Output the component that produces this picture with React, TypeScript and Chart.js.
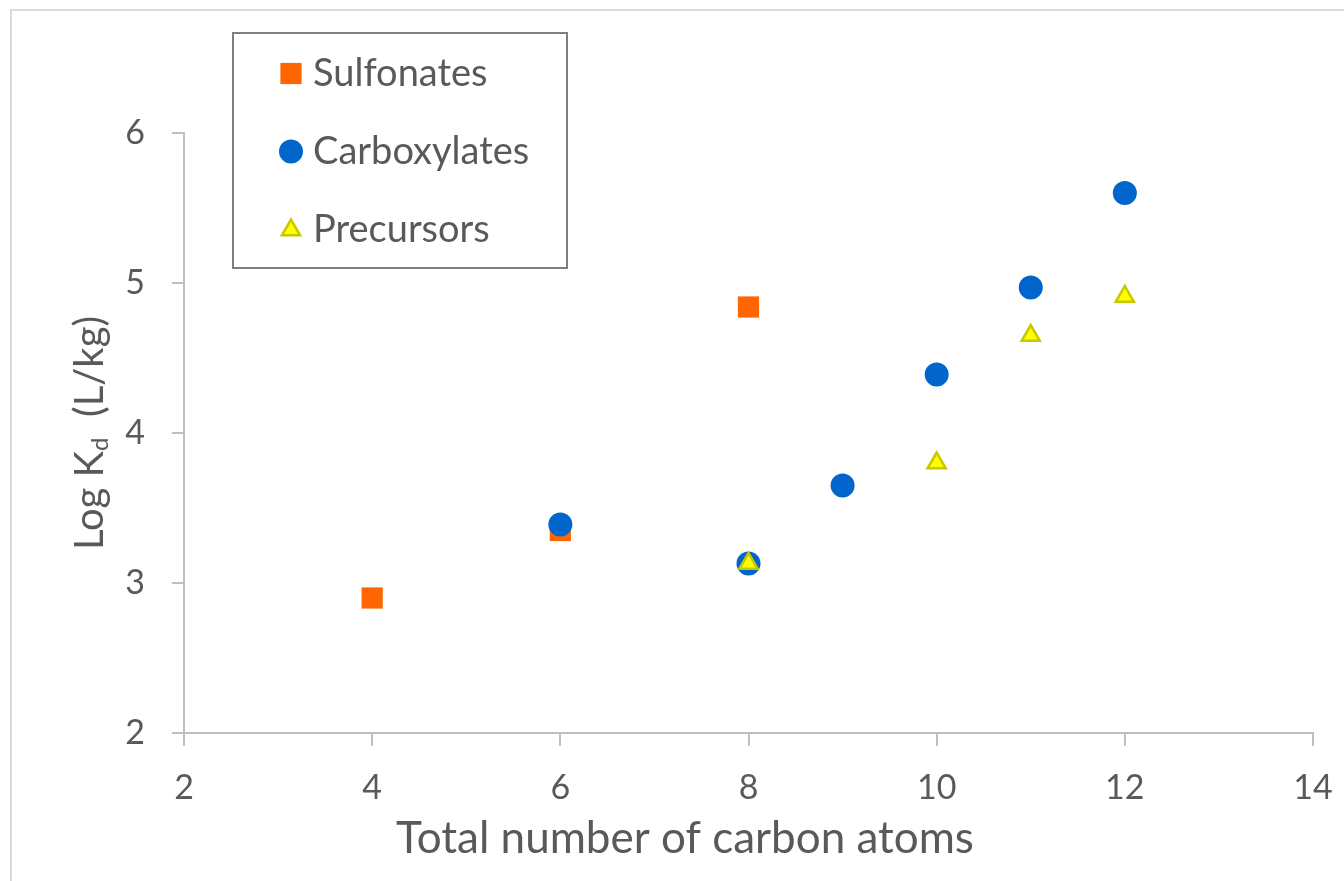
import React, { useEffect, useRef } from "react";
import { Chart, registerables } from "chart.js";
import { drawPoint } from "chart.js/helpers";

Chart.register(...registerables);

// ---- data ----
const seriesNames = ["Sulfonates", "Carboxylates", "Precursors"];
const sulfonateCarbons = [4, 6, 8];
const sulfonateLogKd = [2.9, 3.35, 4.84];
const carboxylateCarbons = [6, 8, 9, 10, 11, 12];
const carboxylateLogKd = [3.39, 3.13, 3.65, 4.39, 4.97, 5.6];
const precursorCarbons = [8, 10, 11, 12];
const precursorLogKd = [3.13, 3.8, 4.65, 4.91];
const xTickValues = [2, 4, 6, 8, 10, 12, 14];
const yTickValues = [2, 3, 4, 5, 6];
const xTitleText = "Total number of carbon atoms";
const yTitleMain = "Log K";
const yTitleSub = "d";
const yTitleUnit = "(L/kg)";

const FONT = "Lato, 'Open Sans', sans-serif";
const TEXT = "#595959";
const AXIS = "#bfbfbf";

const toPoints = (xs: number[], ys: number[]) => xs.map((x, i) => ({ x, y: ys[i] }));

const decorPlugin = {
  id: "decor",
  beforeDraw(chart: any) {
    const ctx = chart.ctx;
    ctx.save();
    ctx.fillStyle = "#ffffff";
    ctx.fillRect(0, 0, chart.width, chart.height);
    ctx.strokeStyle = "#d9d9d9";
    ctx.lineWidth = 2;
    ctx.beginPath();
    ctx.moveTo(11, chart.height);
    ctx.lineTo(11, 10);
    ctx.lineTo(chart.width, 10);
    ctx.stroke();
    ctx.restore();
  },
  afterDraw(chart: any) {
    const ctx = chart.ctx;
    ctx.save();
    // x title
    ctx.fillStyle = TEXT;
    ctx.font = `44px ${FONT}`;
    ctx.textAlign = "center";
    ctx.textBaseline = "alphabetic";
    ctx.fillText(xTitleText, 685, 853);

    // y title with subscript
    const mainFont = `40px ${FONT}`;
    const subFont = `24px ${FONT}`;
    ctx.font = mainFont;
    const w1 = ctx.measureText(yTitleMain).width;
    const gap = ctx.measureText("  ").width;
    const w3 = ctx.measureText(yTitleUnit).width;
    ctx.font = subFont;
    const w2 = ctx.measureText(yTitleSub).width;
    const total = w1 + w2 + gap + w3;
    ctx.translate(103, 433);
    ctx.rotate(-Math.PI / 2);
    ctx.textAlign = "left";
    let x = -total / 2;
    ctx.font = mainFont;
    ctx.fillText(yTitleMain, x, 0);
    x += w1;
    ctx.font = subFont;
    ctx.fillText(yTitleSub, x, 5);
    x += w2 + gap;
    ctx.font = mainFont;
    ctx.fillText(yTitleUnit, x, 0);
    ctx.restore();

    // legend box
    ctx.save();
    ctx.fillStyle = "#ffffff";
    ctx.fillRect(233, 33, 334, 235);
    ctx.strokeStyle = "#7f7f7f";
    ctx.lineWidth = 2;
    ctx.strokeRect(233, 33, 334, 235);
    const rowsY = [73.5, 151.5, 230];
    chart.data.datasets.forEach((ds: any, i: number) => {
      const y = rowsY[i];
      ctx.fillStyle = ds.backgroundColor;
      ctx.strokeStyle = ds.borderColor;
      ctx.lineWidth = ds.borderWidth;
      drawPoint(ctx, { pointStyle: ds.pointStyle, radius: ds.pointRadius, rotation: 0, borderWidth: ds.borderWidth }, 291, y);
      ctx.fillStyle = TEXT;
      ctx.font = `38px ${FONT}`;
      ctx.textAlign = "left";
      ctx.textBaseline = "middle";
      ctx.fillText(ds.label, 313, y);
    });
    ctx.restore();
  },
};

export default function App() {
  const canvasRef = useRef<HTMLCanvasElement | null>(null);

  useEffect(() => {
    if (!canvasRef.current) return;
    const chart = new Chart(canvasRef.current, {
      type: "scatter",
      data: {
        datasets: [
          {
            label: seriesNames[0],
            data: toPoints(sulfonateCarbons, sulfonateLogKd),
            pointStyle: "rect",
            pointRadius: 15,
            pointHoverRadius: 15,
            backgroundColor: "#ff6600",
            borderColor: "#ff6600",
            borderWidth: 0,
            order: 2,
          },
          {
            label: seriesNames[1],
            data: toPoints(carboxylateCarbons, carboxylateLogKd),
            pointStyle: "circle",
            pointRadius: 12,
            pointHoverRadius: 12,
            backgroundColor: "#0066cc",
            borderColor: "#0066cc",
            borderWidth: 0,
            order: 1,
          },
          {
            label: seriesNames[2],
            data: toPoints(precursorCarbons, precursorLogKd),
            pointStyle: "triangle",
            pointRadius: 10.5,
            pointHoverRadius: 10.5,
            backgroundColor: "#ffff00",
            borderColor: "#c8c800",
            borderWidth: 2.5,
            order: 0,
          },
        ] as any,
      },
      options: {
        animation: false,
        responsive: false,
        events: [],
        layout: { padding: { left: 0, right: 31, top: 133, bottom: 0 } },
        plugins: { legend: { display: false }, tooltip: { enabled: false } },
        scales: {
          x: {
            type: "linear",
            min: 2,
            max: 14,
            afterBuildTicks: (s: any) => {
              s.ticks = xTickValues.map((v) => ({ value: v }));
            },
            afterFit: (s: any) => {
              s.height = 148;
              s.paddingLeft = 0;
              s.paddingRight = 0;
            },
            grid: { display: true, drawOnChartArea: false, drawTicks: true, tickLength: 13, color: AXIS, lineWidth: 2 },
            border: { display: true, color: AXIS, width: 2 },
            ticks: { color: TEXT, font: { family: FONT, size: 34 }, padding: 22, maxRotation: 0 },
          },
          y: {
            type: "linear",
            min: 2,
            max: 6,
            afterBuildTicks: (s: any) => {
              s.ticks = yTickValues.map((v) => ({ value: v }));
            },
            afterFit: (s: any) => {
              s.width = 184;
              s.paddingTop = 0;
              s.paddingBottom = 0;
            },
            grid: { display: true, drawOnChartArea: false, drawTicks: true, tickLength: 12, color: AXIS, lineWidth: 2 },
            border: { display: true, color: AXIS, width: 2 },
            ticks: { color: TEXT, font: { family: FONT, size: 34 }, padding: 27 },
          },
        },
      },
      plugins: [decorPlugin],
    });
    return () => chart.destroy();
  }, []);

  return (
    <div style={{ position: "absolute", left: 0, top: 0, width: 1344, height: 881, background: "#fff" }}>
      <canvas ref={canvasRef} width={1344} height={881} />
    </div>
  );
}
